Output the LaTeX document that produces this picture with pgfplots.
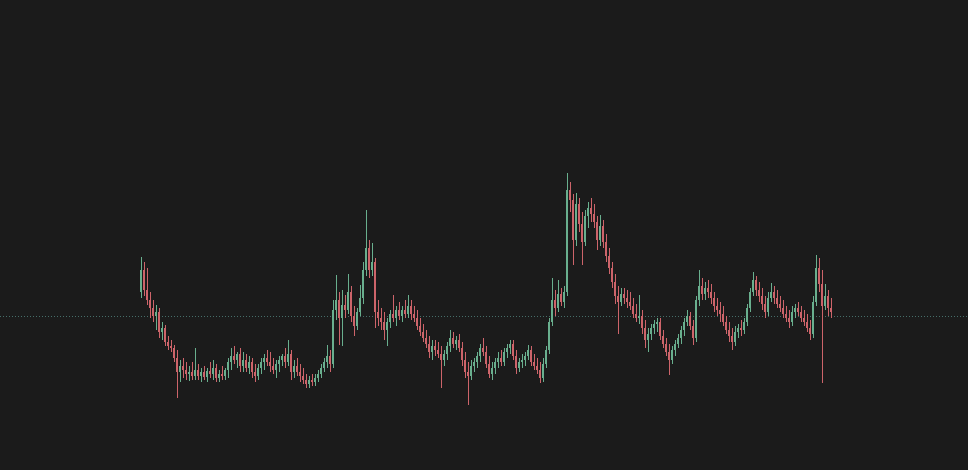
\documentclass[border=0pt]{standalone}
\usepackage{pgfplots}
\usepackage{pgfplotstable}
\pgfplotsset{compat=1.18}
\definecolor{bg}{RGB}{27,27,27}
\definecolor{upc}{RGB}{105,175,142}
\definecolor{dnc}{RGB}{205,100,106}
\definecolor{guide}{RGB}{70,110,105}

% candles in picture units: x, open, high, low, close (y grows downwards)
\pgfplotstableread{
x o h l c
141 292 257 298 270
144 270 262 296 290
147 290 268 305 300
150 300 292 318 308
153 308 300 322 316
156 316 305 330 312
159 312 308 338 332
162 332 322 340 328
165 328 325 346 342
168 342 336 350 346
171 346 340 352 348
174 348 345 362 358
177 358 350 398 372
180 372 360 382 366
183 366 358 378 370
186 370 362 380 374
189 374 366 381 372
192 372 362 380 376
195 376 348 380 370
198 370 364 380 376
201 376 368 382 372
204 372 366 380 377
207 377 368 382 371
210 371 362 378 374
213 374 360 380 368
216 368 364 382 378
219 378 370 382 374
222 374 366 380 376
225 376 368 380 370
228 370 358 378 362
231 362 348 370 356
234 356 346 364 360
237 360 352 368 354
240 354 348 372 366
243 366 352 372 360
246 360 354 372 368
249 368 356 374 362
252 362 358 378 372
255 372 364 382 376
258 376 364 380 368
261 368 358 374 362
264 362 354 370 358
267 358 350 366 362
270 362 352 372 366
273 366 358 374 370
276 370 360 378 364
279 364 356 372 360
282 360 354 366 356
285 356 348 368 362
288 362 340 366 354
291 354 350 380 372
294 372 360 378 366
297 366 358 376 372
300 372 364 382 376
303 376 368 384 380
306 380 374 388 384
309 384 376 388 380
312 380 374 386 382
315 382 374 386 378
318 378 370 382 374
321 374 364 378 368
324 368 358 372 362
327 362 345 368 356
330 356 350 372 364
333 364 300 368 310
336 310 275 320 300
339 300 292 345 318
342 318 290 346 305
345 305 295 318 310
348 310 274 314 292
351 292 286 322 316
354 316 306 336 326
357 326 308 330 312
360 312 285 316 298
363 298 262 304 270
366 270 210 276 248
369 248 240 278 270
372 270 243 276 262
375 262 258 328 312
378 312 300 326 318
381 318 308 330 322
384 322 312 340 330
387 330 318 346 322
390 322 310 328 314
393 314 295 322 318
396 318 306 326 310
399 310 302 320 316
402 316 306 322 310
405 310 300 318 314
408 314 295 318 306
411 306 300 320 314
414 314 306 322 318
417 318 310 330 326
420 326 318 336 332
423 332 324 342 338
426 338 330 348 344
429 344 336 358 352
432 352 340 360 346
435 346 340 356 350
438 350 342 358 354
441 354 346 388 360
444 360 350 366 354
447 354 342 360 346
450 346 330 352 338
453 338 332 348 344
456 344 336 350 340
459 340 334 352 348
462 348 342 366 360
465 360 352 378 372
468 372 362 405 376
471 376 360 380 366
474 366 358 372 362
477 362 352 368 356
480 356 344 362 348
483 348 338 356 352
486 352 346 368 364
489 364 356 378 374
492 374 362 380 368
495 368 358 374 362
498 362 352 368 358
501 358 350 366 362
504 362 348 366 352
507 352 344 358 348
510 348 340 354 344
513 344 340 360 356
516 356 350 374 368
519 368 358 372 362
522 362 354 368 360
525 360 352 366 356
528 356 345 360 350
531 350 346 366 362
534 362 354 370 366
537 366 358 374 370
540 370 362 383 378
543 378 358 382 364
546 364 346 368 350
549 350 318 354 322
552 322 278 326 300
555 300 290 316 308
558 308 280 312 294
561 294 288 306 302
564 302 286 308 292
567 292 173 296 190
570 190 182 212 200
573 200 194 265 240
576 240 193 246 204
579 204 198 232 224
582 224 212 265 242
585 242 210 246 216
588 216 202 228 208
591 208 198 222 214
594 214 204 228 222
597 222 216 250 240
600 240 215 246 226
603 226 220 248 242
606 242 234 262 256
609 256 248 274 268
612 268 262 288 282
615 282 274 304 296
618 296 286 334 302
621 302 288 306 294
624 294 288 304 298
627 298 290 308 302
630 302 292 310 306
633 306 298 318 314
636 314 304 322 318
639 318 295 324 316
642 316 310 334 328
645 328 320 348 340
648 340 328 352 334
651 334 324 340 328
654 328 320 334 324
657 324 318 332 322
660 322 318 340 336
663 336 330 348 344
666 344 338 356 352
669 352 344 375 360
672 360 346 364 350
675 350 340 356 344
678 344 334 348 338
681 338 326 344 330
684 330 318 336 322
687 322 310 326 316
690 316 312 330 326
693 326 320 345 338
696 338 296 342 300
699 300 270 306 286
702 286 278 300 294
705 294 282 300 288
708 288 280 298 292
711 292 284 304 298
714 298 292 312 306
717 306 298 316 310
720 310 302 322 314
723 314 306 326 322
726 322 316 334 330
729 330 322 342 336
732 336 328 350 342
735 342 326 346 332
738 332 324 338 328
741 328 320 336 330
744 330 318 334 322
747 322 304 326 308
750 308 288 312 292
753 292 272 296 280
756 280 276 296 290
759 290 282 302 296
762 296 288 310 304
765 304 296 318 312
768 312 292 316 298
771 298 283 302 292
774 292 286 304 298
777 298 290 308 304
780 304 296 312 308
783 308 300 318 314
786 314 306 322 318
789 318 310 328 322
792 322 306 326 312
795 312 304 318 308
798 308 302 316 312
801 312 306 322 318
804 318 310 326 322
807 322 314 332 328
810 328 320 340 334
813 334 296 338 302
816 302 255 306 268
819 268 258 292 284
822 284 270 383 306
825 306 284 310 296
828 296 290 316 308
831 308 298 318 312
}\candles

% #1 expression, #2 domain, #3 colour, #4 line width
\pgfplotsset{
  candle/.style n args={4}{
    draw=none, mark=none,
    restrict expr to domain={#1}{#2},
    error bars/.cd, y dir=both, y explicit, error mark=none,
    error bar style={draw=#3, solid, line width=#4}},
}

\begin{document}
\begin{tikzpicture}
\begin{axis}[
    scale only axis,
    width=968bp, height=470bp,
    xmin=0, xmax=968, ymin=0, ymax=470,
    y dir=reverse,
    axis line style={draw=none},
    ticks=none,
    axis background/.style={fill=bg},
  ]
  % last price line
  \addplot[guide, line width=0.7bp, dash pattern=on 1bp off 2bp] coordinates {(0,316) (968,316)};

  % wicks
  \addplot[candle={\thisrow{o}-\thisrow{c}}{0:1000}{upc}{0.8bp}]
    table[x=x, y expr={(\thisrow{h}+\thisrow{l})/2},
          y error expr={(\thisrow{l}-\thisrow{h})/2}] {\candles};
  \addplot[candle={\thisrow{c}-\thisrow{o}}{0.5:1000}{dnc}{0.8bp}]
    table[x=x, y expr={(\thisrow{h}+\thisrow{l})/2},
          y error expr={(\thisrow{l}-\thisrow{h})/2}] {\candles};

  % bodies
  \addplot[candle={\thisrow{o}-\thisrow{c}}{0:1000}{upc}{2.4bp}]
    table[x=x, y expr={(\thisrow{o}+\thisrow{c})/2},
          y error expr={max(abs(\thisrow{o}-\thisrow{c})/2,0.6)}] {\candles};
  \addplot[candle={\thisrow{c}-\thisrow{o}}{0.5:1000}{dnc}{2.4bp}]
    table[x=x, y expr={(\thisrow{o}+\thisrow{c})/2},
          y error expr={max(abs(\thisrow{o}-\thisrow{c})/2,0.6)}] {\candles};
\end{axis}
\end{tikzpicture}
\end{document}
